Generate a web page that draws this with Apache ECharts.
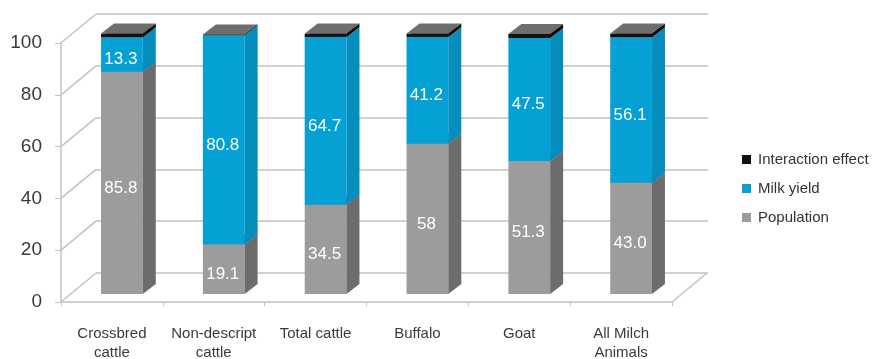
<!DOCTYPE html>
<html>
<head>
<meta charset="utf-8">
<script src="https://cdn.jsdelivr.net/npm/echarts@6/dist/echarts.min.js"></script>
<style>
  html, body { margin: 0; padding: 0; background: #ffffff; }
  #chart { width: 872px; height: 359px; }
</style>
</head>
<body>
<div id="chart"></div>
<script>
// Share of growth in milk output attributable to each factor (%)
const categories = ['Crossbred\ncattle', 'Non-descript\ncattle', 'Total cattle', 'Buffalo', 'Goat', 'All Milch\nAnimals'];
const populationText = ['85.8', '19.1', '34.5', '58', '51.3', '43.0'];
const milkYieldText = ['13.3', '80.8', '64.7', '41.2', '47.5', '56.1'];
const interaction = [1.5, 0.3, 1.4, 1.4, 1.6, 1.5];
const yTicks = [0, 20, 40, 60, 80, 100];
const seriesNames = ['Population', 'Milk yield', 'Interaction effect'];

const population = populationText.map(Number);
const milkYield = milkYieldText.map(Number);

// Pseudo-3D geometry (pixels)
const WALL_DX = 35, WALL_DY = -29;   // depth of the floor / side wall
const BAR_DX = 10, BAR_DY = -8;      // bar front face placement inside the depth
const FACE_DX = 13, FACE_DY = -10;   // bar thickness (side and top faces)
const BAR_RATIO = 0.41;

const FONT = '"Liberation Sans", Arial, sans-serif';
const LINE = '#c2c2c2';

// stacked segments [category, low, high]
function stack(values, base) {
  return values.map((v, i) => [i, base[i], base[i] + v]);
}
const zeros = categories.map(() => 0);
const popData = stack(population, zeros);
const milkData = stack(milkYield, population);
const interBase = population.map((p, i) => p + milkYield[i]);
const interData = stack(interaction, interBase);

function barRenderer(front, side, top, labels) {
  return function (params, api) {
    const i = api.value(0);
    const lo = api.value(1);
    const hi = api.value(2);
    const pLo = api.coord([i, lo]);
    const pHi = api.coord([i, hi]);
    const bw = api.size([1, 0])[0] * BAR_RATIO;
    const x = pLo[0] + BAR_DX - bw / 2;
    const yb = pLo[1] + BAR_DY;
    const yt = pHi[1] + BAR_DY;
    const children = [
      { type: 'rect', shape: { x: x, y: yt, width: bw, height: yb - yt },
        style: { fill: front } },
      { type: 'polygon', shape: { points: [[x + bw, yb], [x + bw + FACE_DX, yb + FACE_DY], [x + bw + FACE_DX, yt + FACE_DY], [x + bw, yt]] },
        style: { fill: side } },
      { type: 'polygon', shape: { points: [[x, yt], [x + FACE_DX, yt + FACE_DY], [x + bw + FACE_DX, yt + FACE_DY], [x + bw, yt]] },
        style: { fill: top } }
    ];
    if (labels) {
      const mid = api.coord([i, (lo + hi) / 2]);
      children.push({
        type: 'text',
        style: {
          text: labels[params.dataIndex], x: x + bw / 2 - 1, y: mid[1] - 3,
          fill: '#ffffff', font: '17px ' + FONT,
          align: 'center', verticalAlign: 'middle'
        }
      });
    }
    return { type: 'group', children: children };
  };
}

// Left wall and floor edges, one item per y tick
function wallRenderer(params, api) {
  const cs = params.coordSys;
  const y = api.coord([0, api.value(1)])[1];
  const style = { stroke: LINE, lineWidth: 1.5 };
  const children = [
    { type: 'line', shape: { x1: cs.x, y1: y, x2: cs.x + WALL_DX, y2: y + WALL_DY }, style: style }
  ];
  if (api.value(1) === 0) {
    const xr = cs.x + cs.width;
    children.push({ type: 'line', shape: { x1: xr, y1: y, x2: xr + WALL_DX, y2: y + WALL_DY }, style: style });
  }
  return { type: 'group', children: children };
}

const chart = echarts.init(document.getElementById('chart'), null, { renderer: 'canvas' });

chart.setOption({
  backgroundColor: '#ffffff',
  animation: false,
  textStyle: { fontFamily: FONT },
  legend: {
    orient: 'vertical',
    left: 737,
    top: 147,
    itemWidth: 9,
    itemHeight: 9,
    itemGap: 14,
    icon: 'rect',
    selectedMode: false,
    data: ['Interaction effect', 'Milk yield', 'Population'],
    textStyle: { fontSize: 15, color: '#333333', fontFamily: FONT, padding: [0, 0, 0, 2] }
  },
  grid: [
    { left: 61, right: 200, top: 43, bottom: 57, outerBoundsMode: 'none', containLabel: false },   // front plane
    { left: 96, right: 164, top: 14, bottom: 86, outerBoundsMode: 'none', containLabel: false }    // back wall
  ],
  xAxis: [
    {
      gridIndex: 0, type: 'category', data: categories, boundaryGap: true,
      axisLine: { lineStyle: { color: LINE, width: 1.5 } },
      axisTick: { show: true, length: 4, lineStyle: { color: LINE } },
      axisLabel: { fontSize: 15, color: '#3a3a3a', margin: 22, lineHeight: 19, fontFamily: FONT, interval: 0 },
      splitLine: { show: false }
    },
    {
      gridIndex: 1, type: 'category', data: categories, show: false
    }
  ],
  yAxis: [
    {
      gridIndex: 0, type: 'value', min: 0, max: 100, interval: 20,
      axisLine: { show: true, lineStyle: { color: LINE, width: 1.5 } },
      axisTick: { show: true, length: 6, lineStyle: { color: LINE } },
      axisLabel: { fontSize: 19, color: '#3a3a3a', margin: 19, fontFamily: FONT },
      splitLine: { show: false }
    },
    {
      gridIndex: 1, type: 'value', min: 0, max: 100, interval: 20,
      axisLine: { show: false }, axisTick: { show: false }, axisLabel: { show: false },
      splitLine: { show: true, lineStyle: { color: LINE, width: 1.5 } }
    }
  ],
  series: [
    {
      type: 'custom', name: 'wall', xAxisIndex: 0, yAxisIndex: 0, z: 1, silent: true,
      renderItem: wallRenderer,
      data: yTicks.map(v => [0, v])
    },
    {
      type: 'custom', name: seriesNames[0], xAxisIndex: 0, yAxisIndex: 0, z: 3,
      itemStyle: { color: '#9c9c9c' },
      encode: { x: 0, y: [1, 2] },
      renderItem: barRenderer('#9c9c9c', '#6c6c6c', '#7a7a7a', populationText),
      data: popData
    },
    {
      type: 'custom', name: seriesNames[1], xAxisIndex: 0, yAxisIndex: 0, z: 4,
      itemStyle: { color: '#05a1d5' },
      encode: { x: 0, y: [1, 2] },
      renderItem: barRenderer('#05a1d5', '#048dbd', '#707070', milkYieldText),
      data: milkData
    },
    {
      type: 'custom', name: seriesNames[2], xAxisIndex: 0, yAxisIndex: 0, z: 5,
      itemStyle: { color: '#111111' },
      encode: { x: 0, y: [1, 2] },
      renderItem: barRenderer('#111111', '#0a0a0a', '#6e6e6e', null),
      data: interData
    }
  ]
});
</script>
</body>
</html>
